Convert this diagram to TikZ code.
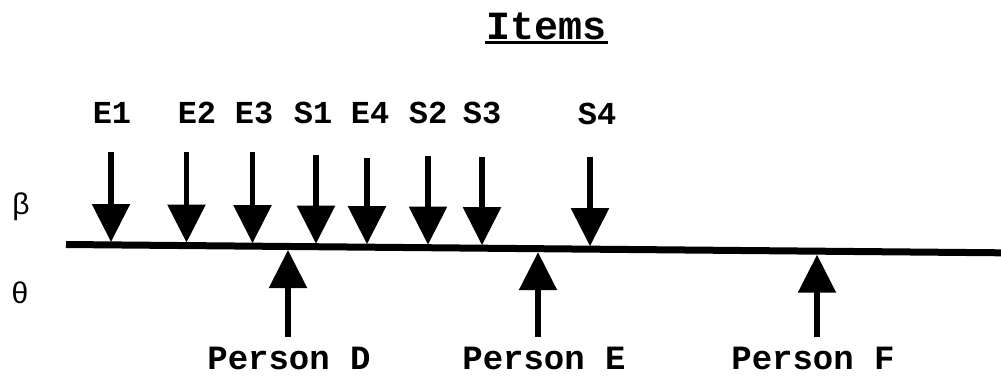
\documentclass[tikz,border=0pt]{standalone}
\usepackage{fontspec}
\setmainfont{Liberation Mono}
\newfontfamily\greekfont{Liberation Sans}
\usetikzlibrary{arrows.meta}
\tikzset{
  lbl/.style={font=\fontsize{32}{32}\selectfont\bfseries, inner sep=0pt, anchor=center},
  plbl/.style={font=\fontsize{34}{34}\selectfont\bfseries, inner sep=0pt, anchor=center},
  sym/.style={font=\fontsize{30}{30}\selectfont\greekfont, inner sep=0pt, anchor=center},
  arr/.style={line width=5.5pt, -{Triangle[length=38pt,width=37pt]}, shorten >=0pt},
  axis/.style={line width=7pt}
}
\begin{document}
\begin{tikzpicture}[x=1pt,y=-1pt]
\useasboundingbox (0,0) rectangle (1001,381);
% title
\node[font=\fontsize{40}{40}\selectfont\bfseries, inner sep=0pt, anchor=base] (title) at (547,39) {Items};
\coordinate (ulA) at (485,42.5);
\coordinate (ulB) at (608,42.5);
\draw[line width=2.5pt] (ulA) -- (ulB);
% axis
\coordinate (axL) at (66,244.5);
\coordinate (axR) at (1001,252.8);
\draw[axis] (axL) -- (axR);
% symbols
\node[sym] (beta) at (21,207) {β};
\node[sym] (theta) at (20,293) {θ};
% item labels
\node[lbl] (E1) at (112,113) {E1};
\node[lbl] (E2) at (197,113) {E2};
\node[lbl] (E3) at (254,113) {E3};
\node[lbl] (S1) at (313,113) {S1};
\node[lbl] (E4) at (370,113) {E4};
\node[lbl] (S2) at (428,113) {S2};
\node[lbl] (S3) at (482,113) {S3};
\node[lbl] (S4) at (597,114) {S4};
% item arrows
\coordinate (tE1) at (111,152); \coordinate (hE1) at (111,242);
\coordinate (tE2) at (186.5,152); \coordinate (hE2) at (186.5,242.6);
\coordinate (tE3) at (252.5,152); \coordinate (hE3) at (252.5,243.2);
\coordinate (tS1) at (316,155); \coordinate (hS1) at (316,243.7);
\coordinate (tE4) at (367,158); \coordinate (hE4) at (367,244.2);
\coordinate (tS2) at (428,156); \coordinate (hS2) at (428,244.7);
\coordinate (tS3) at (482,157); \coordinate (hS3) at (482,245.2);
\coordinate (tS4) at (590,157); \coordinate (hS4) at (590,246.2);
\foreach \n in {E1,E2,E3,S1,E4,S2,S3,S4}{
  \draw[arr] (t\n) -- (h\n);
}
% persons
\node[plbl] (PD) at (289,358) {Person D};
\node[plbl] (PE) at (544,358) {Person E};
\node[plbl] (PF) at (813,358) {Person F};
\coordinate (bD) at (288,337); \coordinate (uD) at (288,250);
\coordinate (bE) at (538,337); \coordinate (uE) at (538,252.2);
\coordinate (bF) at (817,337); \coordinate (uF) at (817,254.7);
\draw[arr] (bD) -- (uD);
\draw[arr] (bE) -- (uE);
\draw[arr] (bF) -- (uF);
\end{tikzpicture}
\end{document}
